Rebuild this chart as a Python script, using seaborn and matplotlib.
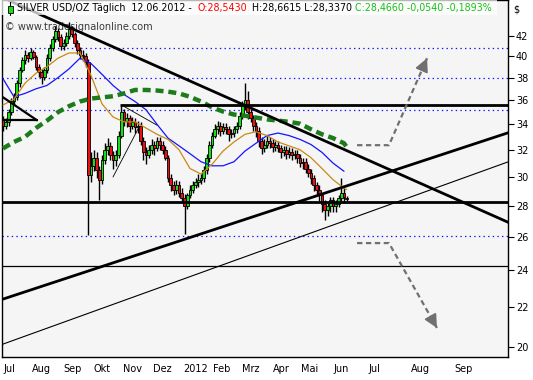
import numpy as np
import pandas as pd
import matplotlib
matplotlib.use("Agg")
import matplotlib.pyplot as plt
import seaborn as sns
from matplotlib.patches import Rectangle
from matplotlib.lines import Line2D
from matplotlib.ticker import NullLocator, FixedLocator, FixedFormatter

sns.set_style("white")
plt.rcParams["font.family"] = ["DejaVu Sans"]

# ---------------- data (2-trading-day candles, Jul 2011 - 12 Jun 2012) ----------------
opens = [34.4, 33.9, 34.2, 35.0, 35.9, 36.3, 37.5, 38.7, 39.6, 40.1,
         39.8, 40.4, 39.9, 39.0, 38.5, 38.1, 38.7, 39.8, 40.8, 41.7,
         42.5, 41.9, 41.0, 41.3, 42.0, 42.7, 42.2, 41.3, 40.6, 40.1,
         40.0, 39.4, 30.1, 30.8, 31.4, 30.5, 29.8, 31.2, 32.0, 32.3,
         31.6, 31.2, 31.6, 33.1, 35.0, 34.3, 34.5, 33.9, 34.2, 33.8,
         33.9, 32.7, 31.8, 31.6, 32.0, 32.4, 32.1, 32.7, 32.4, 32.0,
         31.4, 29.9, 29.4, 29.1, 29.4, 28.9, 28.5, 28.0, 28.7, 29.1,
         29.4, 29.6, 29.8, 29.9, 30.5, 31.4, 32.4, 33.1, 33.6, 33.9,
         33.5, 33.8, 33.6, 33.2, 33.3, 33.6, 33.9, 34.7, 35.6, 36.0,
         35.0, 34.5, 33.9, 33.5, 32.7, 32.1, 32.4, 32.7, 32.5, 32.2,
         32.4, 32.1, 31.8, 32.0, 31.7, 31.8, 31.6, 31.7, 31.4, 31.0,
         31.1, 30.6, 30.3, 29.9, 29.4, 29.1, 28.7, 28.1, 27.7, 28.0,
         28.4, 28.0, 28.1, 28.5, 28.9, 28.54]
highs = [34.7, 34.5, 35.3, 36.2, 36.6, 37.8, 39.0, 39.9, 40.6, 40.4,
         40.8, 40.6, 40.1, 39.3, 38.8, 39.0, 40.2, 41.2, 42.0, 43.0,
         42.8, 42.2, 41.7, 42.4, 43.4, 43.0, 42.4, 41.6, 40.9, 40.6,
         40.3, 39.7, 31.8, 32.0, 31.8, 30.8, 31.6, 32.5, 32.9, 32.6,
         31.9, 32.0, 33.5, 35.5, 35.3, 34.9, 34.8, 34.6, 34.5, 34.3,
         34.2, 33.0, 32.2, 32.4, 32.8, 32.7, 33.0, 33.0, 32.7, 32.3,
         31.6, 30.2, 29.7, 29.8, 29.7, 29.2, 28.8, 28.9, 29.4, 29.7,
         29.9, 30.2, 30.2, 30.8, 31.7, 32.7, 33.4, 34.0, 34.3, 34.2,
         34.1, 34.1, 33.9, 33.6, 33.9, 34.2, 35.0, 35.9, 37.5, 36.8,
         35.3, 34.8, 34.2, 33.8, 33.0, 32.8, 33.1, 33.0, 32.8, 32.7,
         32.7, 32.4, 32.3, 32.3, 32.2, 32.1, 32.0, 32.0, 31.7, 31.4,
         31.4, 30.9, 30.6, 30.1, 29.6, 29.4, 28.9, 28.4, 28.2, 28.6,
         28.6, 28.4, 28.7, 29.9, 29.2, 28.67]
lows = [33.5, 33.6, 33.9, 34.8, 35.6, 36.0, 37.2, 38.5, 39.3, 39.4,
        39.6, 39.7, 38.7, 38.1, 37.4, 37.8, 38.4, 39.5, 40.5, 41.4,
        41.5, 40.6, 40.6, 41.0, 41.7, 41.9, 40.9, 40.2, 39.7, 39.5,
        39.0, 26.1, 29.6, 30.4, 29.9, 28.4, 29.5, 30.9, 31.6, 31.2,
        30.6, 30.8, 31.4, 32.9, 33.9, 33.8, 33.4, 33.6, 33.3, 33.3,
        32.4, 31.2, 30.9, 31.4, 31.7, 31.6, 31.9, 32.0, 31.7, 31.2,
        29.6, 29.0, 28.7, 28.8, 28.6, 28.2, 26.2, 27.8, 28.5, 28.9,
        29.2, 29.3, 29.5, 29.6, 30.2, 31.1, 32.1, 32.9, 33.2, 33.1,
        33.2, 33.2, 32.7, 32.9, 33.0, 33.3, 33.6, 34.4, 35.2, 34.4,
        34.2, 33.5, 33.0, 32.2, 31.7, 31.8, 32.1, 32.1, 31.8, 31.9,
        31.8, 31.4, 31.5, 31.3, 31.4, 31.2, 31.3, 31.0, 30.7, 30.6,
        30.3, 30.0, 29.5, 29.0, 28.7, 28.3, 27.6, 27.1, 27.3, 27.6,
        27.6, 27.6, 27.9, 28.3, 28.2, 28.34]
closes = [33.9, 34.2, 35.0, 35.9, 36.3, 37.5, 38.7, 39.6, 40.1, 39.8,
          40.4, 39.9, 39.0, 38.5, 38.1, 38.7, 39.8, 40.8, 41.7, 42.5,
          41.9, 41.0, 41.3, 42.0, 42.7, 42.2, 41.3, 40.6, 40.1, 40.0,
          39.4, 30.1, 30.8, 31.4, 30.5, 29.8, 31.2, 32.0, 32.3, 31.6,
          31.2, 31.6, 33.1, 35.0, 34.3, 34.5, 33.9, 34.2, 33.8, 33.9,
          32.7, 31.8, 31.6, 32.0, 32.4, 32.1, 32.7, 32.4, 32.0, 31.4,
          29.9, 29.4, 29.1, 29.4, 28.9, 28.5, 28.0, 28.7, 29.1, 29.4,
          29.6, 29.8, 29.9, 30.5, 31.4, 32.4, 33.1, 33.6, 33.9, 33.5,
          33.8, 33.6, 33.2, 33.3, 33.6, 33.9, 34.7, 35.6, 36.0, 35.0,
          34.5, 33.9, 33.5, 32.7, 32.1, 32.4, 32.7, 32.5, 32.2, 32.4,
          32.1, 31.8, 32.0, 31.7, 31.8, 31.6, 31.7, 31.4, 31.0, 31.1,
          30.6, 30.3, 29.9, 29.4, 29.1, 28.7, 28.1, 27.7, 28.0, 28.4,
          28.0, 28.1, 28.5, 28.9, 28.6, 28.47]

# moving averages sampled every 4th candle (plus the last one)
ma_fast = [35.6, 36.1, 37.5, 38.4, 39.0, 39.8, 40.3, 40.3, 38.2, 35.7,
           34.6, 34.2, 34.2, 33.7, 33.2, 32.8, 32.0, 30.6, 30.2, 30.9,
           31.9, 32.6, 33.2, 33.4, 33.1, 32.6, 32.3, 32.0, 31.4, 30.6,
           29.8, 29.2, 29.1]
ma_slow = [37.9, 36.3, 36.6, 37.0, 37.3, 38.0, 38.8, 39.8, 39.3, 38.3,
           37.3, 36.5, 35.9, 35.2, 34.0, 32.9, 32.3, 31.7, 31.1, 30.8,
           30.8, 31.1, 31.9, 32.5, 33.1, 33.3, 33.1, 32.8, 32.4, 31.8,
           31.0, 30.4]
ma_long = [32.1, 32.6, 33.0, 33.7, 34.3, 35.0, 35.5, 35.9, 36.15, 36.25,
           36.35, 36.6, 36.9, 36.9, 36.85, 36.75, 36.6, 36.3, 35.9, 35.4,
           35.05, 34.8, 34.7, 34.55, 34.4, 34.3, 34.2, 34.05, 33.6, 33.2,
           32.9, 32.5, 32.2]

month_labels = ["Jul", "Aug", "Sep", "Okt", "Nov", "Dez", "2012", "Feb", "Mrz",
                "Apr", "Mai", "Jun", "Jul", "Aug", "Sep"]
month_days = [0, 21, 44, 66, 87, 109, 131, 153, 174, 196, 217, 240, 266, 297, 328]
price_ticks = [20, 22, 24, 26, 28, 30, 32, 34, 36, 38, 40, 42]
grid_levels = [40.76, 37.94, 35.16, 26.05]

# drawing objects (trading-day index, price)
desc_line = ([3.6, 368.7], [45.7, 26.87])
rise_thick = ([0.0, 368.7], [22.42, 33.37])
rise_thin = ([0.0, 368.7], [20.14, 31.14])
resist_level = 35.58
support_level = 28.25
low_level = 24.25
tri_diag = ([0.0, 24.7], [36.26, 34.33])
tri_flat = ([0.0, 24.7], [34.33, 34.33])
wedge_a = ([80.0, 98.9], [29.99, 33.77])
wedge_b = ([86.5, 112.0], [35.58, 33.93])
up_path = ([257.5, 280.7, 308.4], [32.35, 32.35, 39.8])
down_path = ([257.5, 280.7, 315.6], [25.62, 25.62, 20.93])

# ---------------- figure ----------------
W, H = 533, 380
fig = plt.figure(figsize=(W / 100, H / 100), dpi=100)
fig.patch.set_facecolor("white")
ax = fig.add_axes([2 / W, 23 / H, 506 / W, 357 / H])
ax.set_facecolor("#f5f5f5")
ax.set_yscale("log")
ax.set_xlim(-0.73, 367.27)
ax.set_ylim(19.53, 45.72)

n = len(closes)
x = np.arange(n) * 2
o = np.array(opens); c = np.array(closes)
hi = np.array(highs); lo = np.array(lows)

# dotted levels
for lv in grid_levels:
    ax.axhline(lv, color="#1010ff", lw=0.9, linestyle=(0, (1.1, 2.6)), zorder=1)

# copyright
ax.text(3 / 506, 1 - 27 / 357, "\u00a9 www.tradesignalonline.com", transform=ax.transAxes,
        fontsize=7.0, color="#3a3a3a", va="center", ha="left", zorder=2)

# candles
ax.vlines(x, lo, hi, color="black", lw=1.0, zorder=3)
colors = np.where(c >= o, "#14e014", "#ee1010")
ax.bar(x, np.maximum(np.abs(c - o), 0.06), bottom=np.minimum(o, c), width=1.85,
       color=colors, edgecolor="black", linewidth=0.6, zorder=4)

# moving averages
ma_x = list(range(0, 125, 4)) + [125]
df_fast = pd.DataFrame({"x": np.array(ma_x) * 2, "v": ma_fast})
df_slow = pd.DataFrame({"x": np.array(ma_x[:len(ma_slow)]) * 2, "v": ma_slow})
df_long = pd.DataFrame({"x": np.array(ma_x) * 2, "v": ma_long})
sns.lineplot(data=df_slow, x="x", y="v", ax=ax, color="#1414ff", lw=0.9, zorder=5, legend=False)
sns.lineplot(data=df_fast, x="x", y="v", ax=ax, color="#c88a14", lw=0.9, zorder=5, legend=False)
sns.lineplot(data=df_long, x="x", y="v", ax=ax, color="#1c7c1c", lw=3.2, zorder=5, legend=False)
ax.lines[-1].set_dashes([1.8, 1.1])
ax.set_xlabel(""); ax.set_ylabel("")

# levels and trend lines
ax.hlines(resist_level, 85, 370, color="black", lw=2.0, zorder=6)
ax.axhline(support_level, color="black", lw=2.0, zorder=6)
ax.axhline(low_level, color="black", lw=0.9, zorder=6)
ax.plot(*desc_line, color="black", lw=2.0, zorder=6)
ax.plot(*rise_thick, color="black", lw=2.0, zorder=6)
ax.plot(*rise_thin, color="black", lw=0.8, zorder=6)
ax.plot(*tri_diag, color="black", lw=1.6, zorder=6)
ax.plot(*tri_flat, color="black", lw=1.6, zorder=6)
ax.plot(*wedge_a, color="black", lw=0.6, zorder=6)
ax.plot(*wedge_b, color="black", lw=0.6, zorder=6)

# scenario arrows
for px, py in (up_path, down_path):
    ax.plot(px, py, color="#707070", lw=1.6, linestyle=(0, (2.4, 1.6)), zorder=6,
            solid_capstyle="butt", dash_capstyle="butt")
    tx, ty = px[-1], py[-1]
    sx, sy = px[-2], py[-2]
    bx = tx + 0.12 * (sx - tx)
    by = np.exp(np.log(ty) + 0.12 * (np.log(sy) - np.log(ty)))
    ax.annotate("", xy=(tx, ty), xytext=(bx, by),
                arrowprops=dict(arrowstyle="-|>,head_length=0.9,head_width=0.45",
                                color="#707070", lw=1.2, shrinkA=0, shrinkB=0,
                                mutation_scale=9), zorder=7)

# axes styling
for sp in ax.spines.values():
    sp.set_color("black"); sp.set_linewidth(1.0)
ax.yaxis.set_minor_locator(NullLocator())
ax.yaxis.set_major_locator(FixedLocator(price_ticks))
ax.yaxis.set_major_formatter(FixedFormatter([str(v) for v in price_ticks]))
ax.yaxis.tick_right()
ax.tick_params(axis="y", direction="out", length=4.5, width=0.8, pad=1.2,
               labelsize=7, colors="black")
ax.xaxis.set_minor_locator(NullLocator())
ax.set_xticks(month_days)
ax.set_xticklabels(month_labels)
for lab in ax.get_xticklabels():
    lab.set_ha("left")
ax.tick_params(axis="x", direction="out", length=3.5, width=0.8, pad=1.5,
               labelsize=7, colors="black")

# header
fig.add_artist(Rectangle((0, 1 - 15 / H), 497 / W, 15 / H, transform=fig.transFigure,
                         facecolor="white", alpha=0.72, edgecolor="none", zorder=10))
fig.add_artist(Line2D([10 / W, 10 / W], [1 - 15 / H, 1 - 2 / H], transform=fig.transFigure,
                      color="black", lw=0.8, zorder=11))
fig.add_artist(Rectangle((7.5 / W, 1 - 12.5 / H), 5 / W, 7 / H, transform=fig.transFigure,
                         facecolor="#14e014", edgecolor="black", lw=0.6, zorder=12))
hy = 1 - 8 / H
hs = 6.85
fig.text(17 / W, hy, "SILVER USD/OZ T\u00e4glich  12.06.2012 -", fontsize=hs, color="black",
         va="center", ha="left", zorder=13)
fig.text(198 / W, hy, "O:28,5430", fontsize=hs, color="#ff0000", va="center", ha="left", zorder=13)
fig.text(252 / W, hy, "H:28,6615 L:28,3370", fontsize=hs, color="black", va="center", ha="left", zorder=13)
fig.text(355 / W, hy, "C:28,4660 -0,0540 -0,1893%", fontsize=hs, color="#18c018",
         va="center", ha="left", zorder=13)
fig.text(513 / W, 1 - 10 / H, "$", fontsize=7, color="black", va="center", ha="left")

fig.savefig("out.png", dpi=100, facecolor="white")
